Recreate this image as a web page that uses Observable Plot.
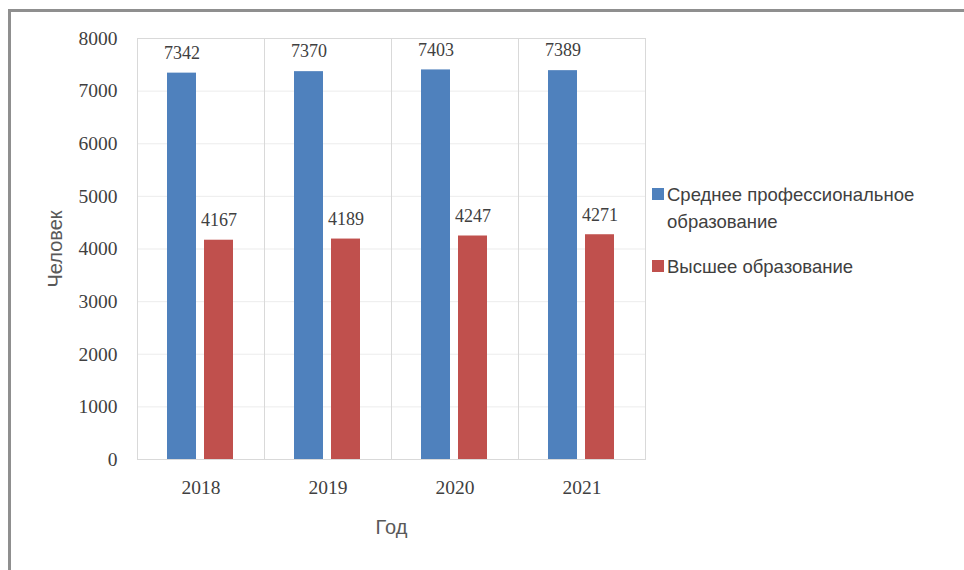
<!DOCTYPE html>
<html>
<head>
<meta charset="utf-8">
<script src="https://cdn.jsdelivr.net/npm/d3@7"></script>
<script src="https://cdn.jsdelivr.net/npm/@observablehq/plot@0.6"></script>
<style>
  html, body { margin: 0; padding: 0; background: #fff; }
  #wrap { position: relative; width: 964px; height: 570px; overflow: hidden; }
  #border { position: absolute; left: 8px; top: 9px; right: -10px; bottom: -10px;
            border-top: 3px solid #8f8f8f; border-left: 3px solid #8f8f8f; }
  #chart { position: absolute; left: 0; top: 0; }
  #legend { position: absolute; left: 652px; top: 181px; font-family: "Liberation Sans", sans-serif;
            font-size: 18.5px; color: #404040; line-height: 27px; }
  .item { position: relative; padding-left: 15px; margin-bottom: 18px; }
  .sw { position: absolute; left: 0; top: 7px; width: 12px; height: 12px; }
  g[aria-label="y-axis label"] text, g[aria-label="fx-axis label"] text {
    font-family: "Liberation Sans", sans-serif; font-size: 20px; fill: #595959;
  }
  g[aria-label="y-axis tick label"] text, g[aria-label="fx-axis tick label"] text { fill: #404040; }
</style>
</head>
<body>
<div id="wrap">
  <div id="border"></div>
  <div id="chart"></div>
  <div id="legend"></div>
</div>
<script>
const years = ["2018", "2019", "2020", "2021"];
const seriesNames = ["Среднее профессиональное образование", "Высшее образование"];
const seriesLegend = [["Среднее профессиональное", "образование"], ["Высшее образование"]];
const secondaryVocational = [7342, 7370, 7403, 7389];
const higherEducation = [4167, 4189, 4247, 4271];
const seriesColors = ["#4F81BD", "#C0504D"];
const yTicks = [0, 1000, 2000, 3000, 4000, 5000, 6000, 7000, 8000];

const data = [];
years.forEach((yr, i) => {
  data.push({year: yr, series: seriesNames[0], value: secondaryVocational[i]});
  data.push({year: yr, series: seriesNames[1], value: higherEducation[i]});
});

const chart = Plot.plot({
  width: 964,
  height: 570,
  marginLeft: 136,
  marginRight: 319,
  marginTop: 38,
  marginBottom: 111,
  style: {fontFamily: "Liberation Serif, serif", fontSize: "19.5px", color: "#404040", background: "transparent"},
  fx: {domain: years, padding: 0, label: "Год", axis: "bottom", tickSize: 0, tickPadding: 21, labelAnchor: "center", labelOffset: 74},
  x: {domain: seriesNames, paddingInner: 0.216, paddingOuter: 0.824, axis: null},
  y: {domain: [0, 8000], ticks: yTicks, grid: true, label: "Человек", labelArrow: false, labelAnchor: "center", labelOffset: 90, tickSize: 0, tickPadding: 20, tickFormat: d => String(d)},
  color: {domain: seriesNames, range: seriesColors},
  marks: [
    Plot.frame({stroke: "#d9d9d9"}),
    Plot.barY(data, {fx: "year", x: "series", y: "value", fill: "series"}),
    Plot.text(data, {fx: "year", x: "series", y: "value", text: d => String(d.value), dy: -20, fill: "#404040", fontSize: 18})
  ]
});
chart.querySelectorAll('g[aria-label="y-grid"]').forEach(g => { g.setAttribute("stroke", "#d9d9d9"); g.setAttribute("stroke-opacity", "1"); });
chart.querySelectorAll('g[aria-label="y-axis label"] text').forEach(t => { t.textContent = "Человек"; });
document.getElementById("chart").appendChild(chart);

const legend = document.getElementById("legend");
seriesLegend.forEach((lines, i) => {
  const item = document.createElement("div");
  item.className = "item";
  const sw = document.createElement("div");
  sw.className = "sw";
  sw.style.background = seriesColors[i];
  item.appendChild(sw);
  lines.forEach(l => { const d = document.createElement("div"); d.textContent = l; item.appendChild(d); });
  legend.appendChild(item);
});
</script>
</body>
</html>
